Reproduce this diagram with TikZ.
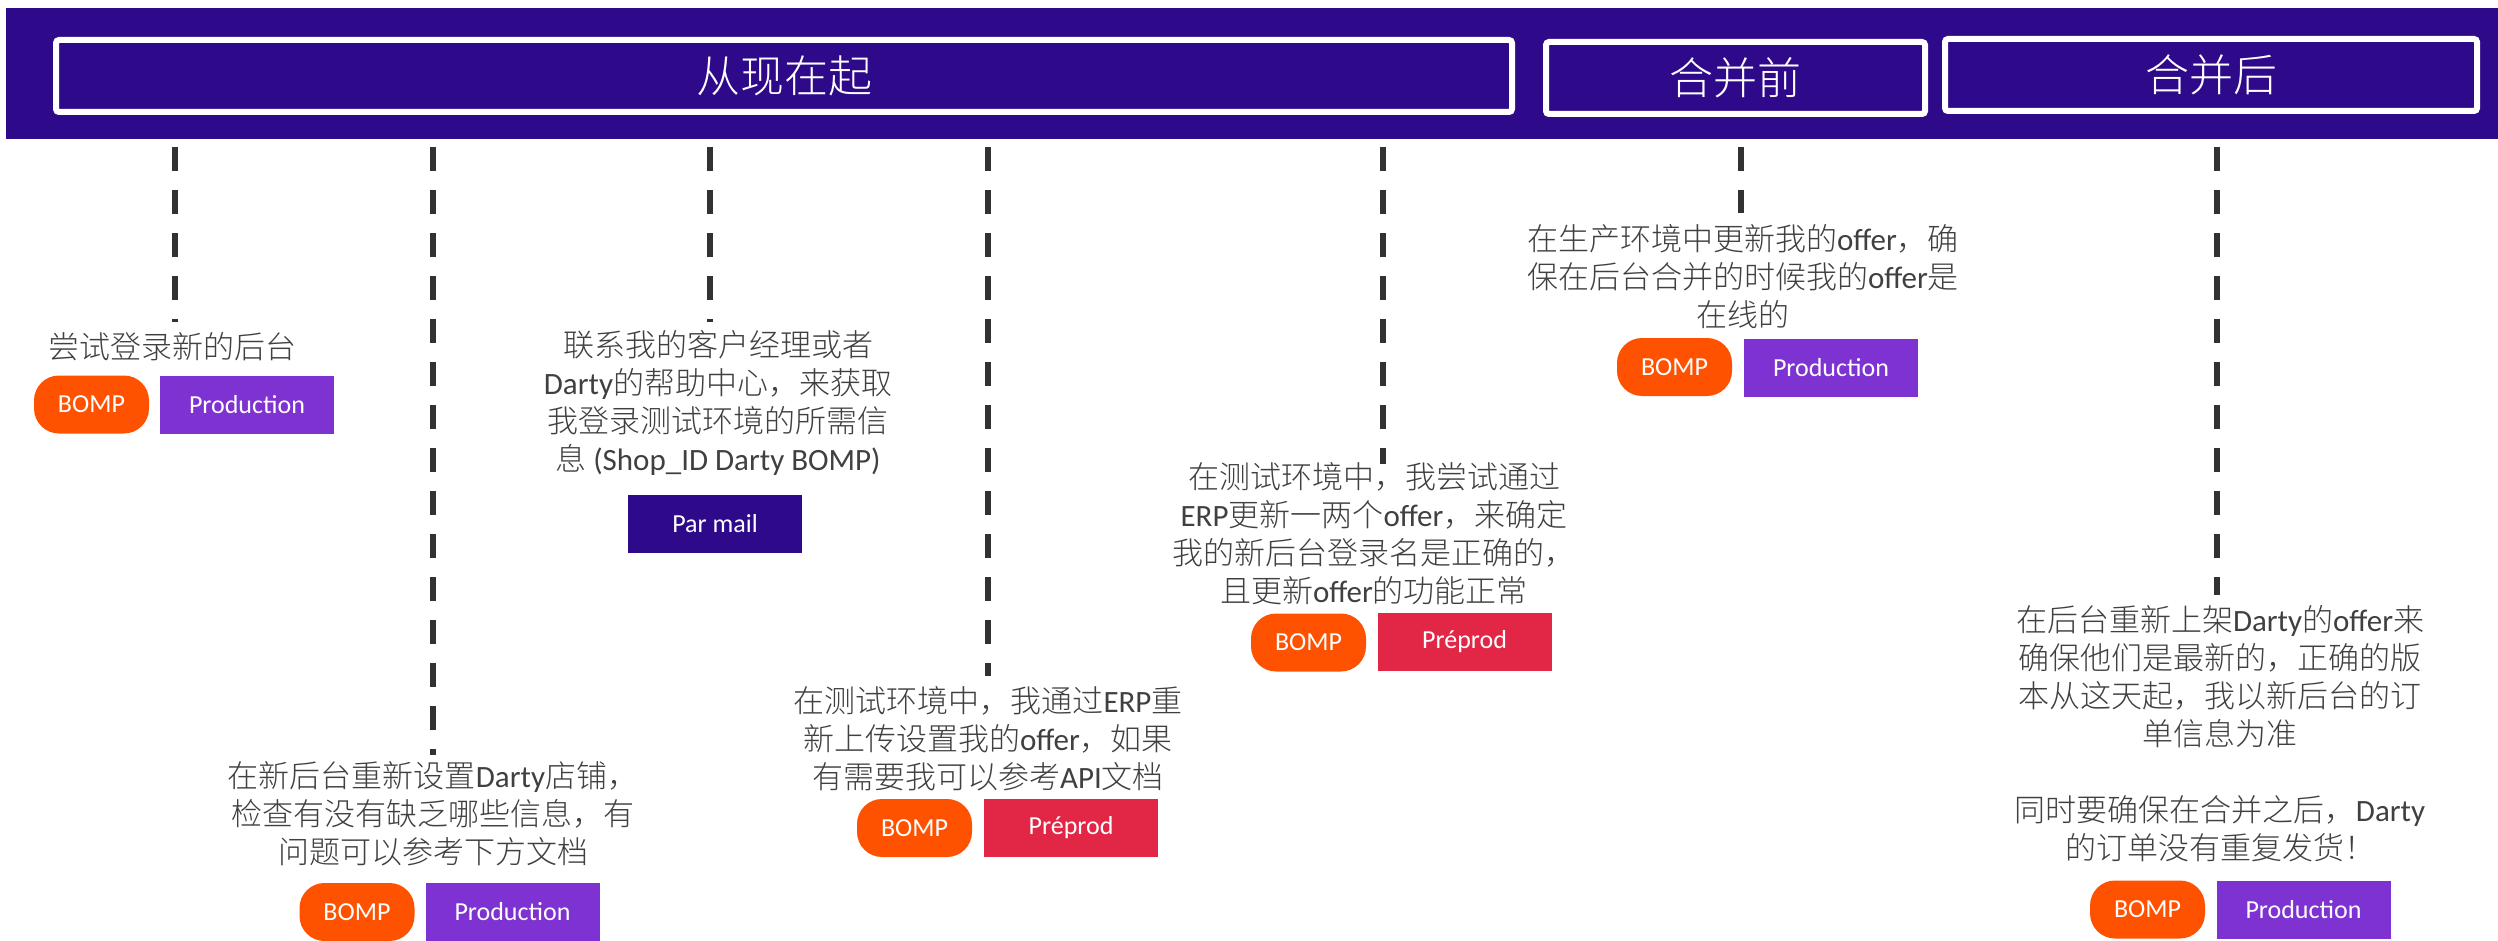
\documentclass[tikz,border=0pt]{standalone}
\usepackage{fontspec}
\setmainfont{Carlito}
\newfontfamily\cjkfont{Noto Sans CJK SC Light}
\newfontfamily\cjkhead{Noto Sans CJK SC}
\newfontfamily\latinfont{Carlito}
% automatic switch between Latin and CJK fonts
\XeTeXinterchartokenstate=1
\newcount\mycnt
\def\setcjkrange#1#2{\mycnt=#1\relax\loop\XeTeXcharclass\mycnt=7\relax\ifnum\mycnt<#2\advance\mycnt by 1\repeat}
\setcjkrange{"3000}{"303F}
\setcjkrange{"4E00}{"9FFF}
\setcjkrange{"FF00}{"FFEF}
\XeTeXinterchartoks 0 7 = {\cjkfont}
\XeTeXinterchartoks 4095 7 = {\cjkfont}
\XeTeXinterchartoks 7 0 = {\latinfont}
\XeTeXinterchartoks 7 4095 = {\latinfont}
\XeTeXinterchartoks 4095 0 = {\latinfont}
\definecolor{banner}{RGB}{46,9,138}
\definecolor{bomp}{RGB}{255,82,0}
\definecolor{prodc}{RGB}{126,50,210}
\definecolor{preprodc}{RGB}{226,38,70}
\definecolor{txt}{RGB}{64,64,64}
\definecolor{dashc}{RGB}{50,50,50}
\tikzset{
 hdrbox/.style={draw=white, line width=6pt, rounded corners=3pt, text=white, font=\fontsize{44}{52}\selectfont, inner sep=0pt, minimum height=72pt},
 desc/.style={align=center, text=txt, font=\fontsize{31}{38}\selectfont, inner sep=0pt},
 pill/.style={fill=bomp, rounded corners=25pt, minimum width=115pt, minimum height=58pt, text=white, font=\fontsize{26}{30}\selectfont, inner sep=0pt},
 tagbox/.style={minimum width=174pt, minimum height=58pt, text=white, font=\fontsize{26}{30}\selectfont, inner sep=0pt},
 prod/.style={tagbox, fill=prodc},
 pre/.style={tagbox, fill=preprodc},
 mail/.style={tagbox, fill=banner},
 vline/.style={draw=dashc, line width=6.5pt, dash pattern=on 24pt off 19pt},
}
\begin{document}
\begin{tikzpicture}[x=1pt,y=-1pt]
\useasboundingbox (0,0) rectangle (2498,941);
% banner
\fill[banner] (6,8) rectangle (2498,139);
\node[hdrbox, minimum width=1456pt] (now) at (784,76) {从现在起};
\node[hdrbox, minimum width=379pt] (before) at (1735.5,78) {合并前};
\node[hdrbox, minimum width=532pt] (after) at (2211,75) {合并后};
% dashed lines
\foreach \n/\x/\e in {1/175/322, 2/433/755, 3/710/322, 4/988/676, 5/1383/464, 6/1741/213, 7/2217/595}{
  \coordinate (s\n) at (\x,147);
  \coordinate (e\n) at (\x,\e);
  \draw[vline] (s\n) -- (e\n);
}
% A
\node[desc] (ta) at (172,347) {尝试登录新的后台};
\node[pill] (ba) at (91.5,404.5) {BOMP};
\node[prod] (pa) at (247,404.5) {Production};
% B
\node[desc] (tb) at (718,402.5) {联系我的客户经理或者\\Darty的帮助中心，来获取\\我登录测试环境的所需信\\息 (Shop\_ID Darty BOMP)};
\node[mail] (mb) at (715,523.5) {Par mail};
% C
\node[desc] (tc) at (433,814) {在新后台重新设置Darty店铺，\\检查有没有缺乏哪些信息，有\\问题可以参考下方文档};
\node[pill] (bc) at (357,912) {BOMP};
\node[prod] (pc) at (512.5,912) {Production};
% D
\node[desc] (td) at (988,739) {在测试环境中，我通过ERP重\\新上传设置我的offer，如果\\有需要我可以参考API文档};
\node[pill] (bd) at (914.5,828) {BOMP};
\node[pre] (pd) at (1071,828) {Préprod};
% E
\node[desc] (te) at (1374,533.5) {在测试环境中，我尝试通过\\ERP更新一两个offer，来确定\\我的新后台登录名是正确的，\\且更新offer的功能正常};
\node[pill] (be) at (1308.5,642.5) {BOMP};
\node[pre] (pe) at (1464.5,642) {Préprod};
% F
\node[desc] (tf) at (1743,276.5) {在生产环境中更新我的offer，确\\保在后台合并的时候我的offer是\\在线的};
\node[pill] (bf) at (1674.5,367) {BOMP};
\node[prod] (pf) at (1831,367.5) {Production};
% G
\node[desc] (tg) at (2220,734) {在后台重新上架Darty的offer来\\确保他们是最新的，正确的版\\本从这天起，我以新后台的订\\单信息为准\\[38pt]同时要确保在合并之后，Darty\\的订单没有重复发货！};
\node[pill] (bg) at (2147.5,909.5) {BOMP};
\node[prod] (pg) at (2303.5,909.5) {Production};
\end{tikzpicture}
\end{document}
